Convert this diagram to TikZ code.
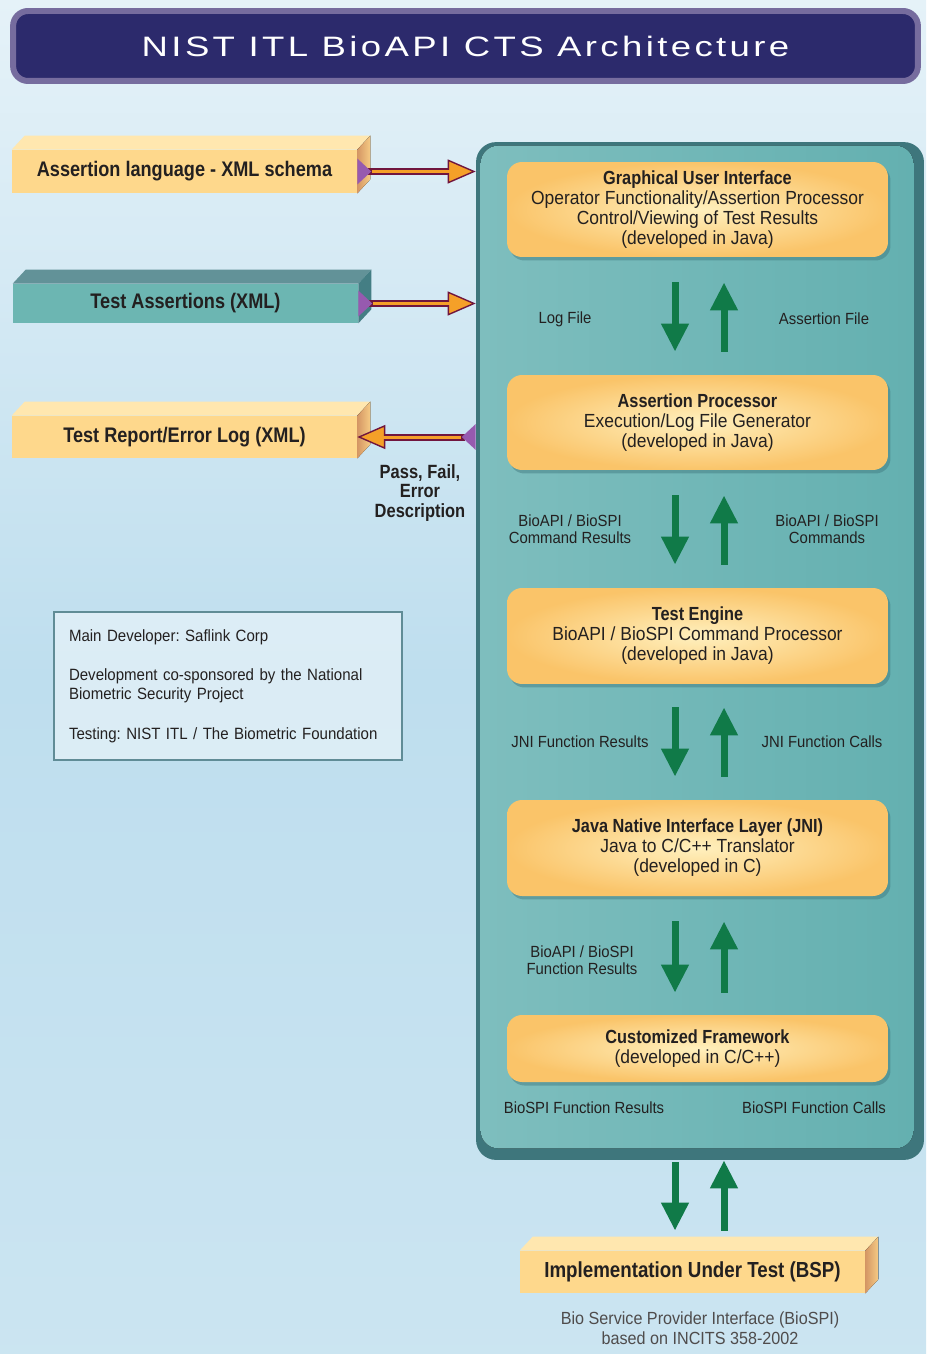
\documentclass[tikz,border=0pt]{standalone}
\usepackage{fontspec}
\setmainfont[FakeStretch=0.92, BoldFeatures={FakeStretch=0.86}]{Liberation Sans}
\newfontfamily\titlefont[FakeStretch=1.3, LetterSpace=12]{Liberation Sans}
\usepackage{tikz}
\usetikzlibrary{arrows.meta,positioning,shadows}
\definecolor{bgblue}{RGB}{190,222,238}
\definecolor{navy}{RGB}{44,42,108}
\definecolor{navyedge}{RGB}{118,108,158}
\definecolor{tealmain}{RGB}{100,176,176}
\definecolor{teallight}{RGB}{126,190,190}
\definecolor{tealdark}{RGB}{62,118,124}
\definecolor{boxedge}{RGB}{250,196,105}
\definecolor{boxmid}{RGB}{255,240,190}
\definecolor{barfront}{RGB}{254,216,140}
\definecolor{bartop}{RGB}{255,231,175}
\definecolor{barside}{RGB}{212,150,100}
\definecolor{tealbar}{RGB}{108,182,178}
\definecolor{tealbartop}{RGB}{98,146,152}
\definecolor{tealbarside}{RGB}{68,126,132}
\definecolor{arrowgreen}{RGB}{16,122,72}
\definecolor{maroon}{RGB}{112,22,62}
\definecolor{orangeline}{RGB}{245,160,40}
\definecolor{pyramid}{RGB}{150,90,175}
\definecolor{textdark}{RGB}{35,32,32}
\definecolor{notesedge}{RGB}{96,140,150}

\begin{document}
\begin{tikzpicture}[x=0.02cm, y=-0.02cm,
    box/.style={rectangle, rounded corners=0.3cm, minimum width=7.62cm, inner color=boxmid, outer color=boxedge, align=center, text=textdark, font=\fontsize{10.8}{11.4}\selectfont, drop shadow={shadow xshift=0.05cm, shadow yshift=-0.07cm, opacity=0.45, fill=tealdark}},
    bar/.style={rectangle, minimum width=6.9cm, inner sep=0pt, text=textdark, font=\bfseries\fontsize{12}{14}\selectfont},
    lbl/.style={align=center, text=textdark, font=\fontsize{9.2}{9.8}\selectfont},
    garrow/.style={draw=arrowgreen, line width=0.14cm, -{Triangle[length=0.56cm, width=0.52cm]}},
    oarrow/.style={draw=maroon, line width=0.14cm, {Triangle[reversed, length=0.28cm, width=0.5cm, color=pyramid, fill=pyramid]}-{Triangle[length=0.56cm, width=0.48cm, line width=0.8pt, fill=orangeline]}, postaction={draw=orangeline, line width=0.06cm, -, shorten <=0.3cm, shorten >=0.5cm}}
]
\useasboundingbox (0,0) rectangle (926,1354);
\shade[top color=white!60!bgblue, bottom color=bgblue!80!white, middle color=bgblue] (0,0) rectangle (926,1354);

% title bar
\node[rectangle, rounded corners=0.3cm, fill=navy, draw=navyedge, line width=0.12cm, minimum width=18.1cm, minimum height=1.4cm, text=white, font=\titlefont\fontsize{16}{18}\selectfont] (title) at (465.5,46) {NIST ITL BioAPI CTS Architecture};

% main panel
\node[rectangle, rounded corners=0.4cm, fill=tealdark, minimum width=8.96cm, minimum height=20.36cm] (panel) at (700,651) {};
\fill[rounded corners=0.35cm, left color=teallight, right color=tealmain] ([shift={(5,4)}]panel.north west) rectangle ([shift={(-11,-12)}]panel.south east);

% layers
\node[box, minimum height=1.9cm] (gui) at (697.5,209.5) {\textbf{Graphical User Interface}\\Operator Functionality/Assertion Processor\\Control/Viewing of Test Results\\(developed in Java)};
\node[box, minimum height=1.9cm] (aproc) at (697.5,422.5) {\textbf{Assertion Processor}\\Execution/Log File Generator\\(developed in Java)};
\node[box, minimum height=1.92cm] (tengine) at (697.5,636) {\textbf{Test Engine}\\BioAPI / BioSPI Command Processor\\(developed in Java)};
\node[box, minimum height=1.92cm] (jni) at (697.5,848) {\textbf{Java Native Interface Layer (JNI)}\\Java to C/C++ Translator\\(developed in C)};
\node[box, minimum height=1.34cm] (cframe) at (697.5,1048.5) {\textbf{Customized Framework}\\(developed in C/C++)};

% arrow columns
\coordinate (dn) at (675,0);
\coordinate (up) at (724,0);

\draw[garrow, shorten <=0.5cm, shorten >=0.46cm] (gui.south -| dn) -- (aproc.north -| dn);
\draw[garrow, shorten <=0.46cm, shorten >=0.5cm] (aproc.north -| up) -- (gui.south -| up);
\draw[garrow, shorten <=0.5cm, shorten >=0.46cm] (aproc.south -| dn) -- (tengine.north -| dn);
\draw[garrow, shorten <=0.46cm, shorten >=0.5cm] (tengine.north -| up) -- (aproc.south -| up);
\draw[garrow, shorten <=0.46cm, shorten >=0.46cm] (tengine.south -| dn) -- (jni.north -| dn);
\draw[garrow, shorten <=0.46cm, shorten >=0.46cm] (jni.north -| up) -- (tengine.south -| up);
\draw[garrow, shorten <=0.5cm, shorten >=0.44cm] (jni.south -| dn) -- (cframe.north -| dn);
\draw[garrow, shorten <=0.44cm, shorten >=0.5cm] (cframe.north -| up) -- (jni.south -| up);

\node[lbl] (lbllog) at (565,319) {Log File};
\node[lbl] (lblafile) at (824,319) {Assertion File};
\node[lbl] (lblcmdres) at (570,529) {BioAPI / BioSPI\\Command Results};
\node[lbl] (lblcmd) at (827,529) {BioAPI / BioSPI\\Commands};
\node[lbl] (lbljnires) at (580,742) {JNI Function Results};
\node[lbl] (lbljnicall) at (822,742) {JNI Function Calls};
\node[lbl] (lblfnres) at (582,960) {BioAPI / BioSPI\\Function Results};
\node[lbl] (lblspires) at (584,1108) {BioSPI Function Results};
\node[lbl] (lblspicall) at (814,1108) {BioSPI Function Calls};

% 3D bars
\node[bar, fill=barfront, minimum height=0.86cm] (xmlschema) at (184.5,171.5) {Assertion language - XML schema};
\fill[bartop] (xmlschema.north west) -- ++(13,-14) -- ([shift={(13,-14)}]xmlschema.north east) -- (xmlschema.north east) -- cycle;
\fill[left color=barside, right color=barfront!80!barside] (xmlschema.north east) -- ++(13,-14) -- ([shift={(13,-14)}]xmlschema.south east) -- (xmlschema.south east) -- cycle;

\node[bar, fill=tealbar, minimum height=0.78cm] (tassert) at (185.5,303.5) {Test Assertions (XML)};
\fill[tealbartop] (tassert.north west) -- ++(13,-14) -- ([shift={(13,-14)}]tassert.north east) -- (tassert.north east) -- cycle;
\fill[tealbarside] (tassert.north east) -- ++(13,-14) -- ([shift={(13,-14)}]tassert.south east) -- (tassert.south east) -- cycle;

\node[bar, fill=barfront, minimum height=0.84cm] (treport) at (184.5,437) {Test Report/Error Log (XML)};
\fill[bartop] (treport.north west) -- ++(13,-14) -- ([shift={(13,-14)}]treport.north east) -- (treport.north east) -- cycle;
\fill[left color=barside, right color=barfront!80!barside] (treport.north east) -- ++(13,-14) -- ([shift={(13,-14)}]treport.south east) -- (treport.south east) -- cycle;

\node[bar, fill=barfront, minimum height=0.84cm, font=\bfseries\fontsize{12.4}{14}\selectfont] (iut) at (692.5,1272) {Implementation Under Test (BSP)};
\fill[bartop] (iut.north west) -- ++(13,-14) -- ([shift={(13,-14)}]iut.north east) -- (iut.north east) -- cycle;
\fill[left color=barside, right color=barfront!80!barside] (iut.north east) -- ++(13,-14) -- ([shift={(13,-14)}]iut.south east) -- (iut.south east) -- cycle;

% xml files in and out
\draw[oarrow] (xmlschema.east) -- (panel.west |- xmlschema.east);
\draw[oarrow] (tassert.east) -- (panel.west |- tassert.east);
\draw[oarrow] (panel.west |- treport.east) -- (treport.east);
\node[font=\bfseries\fontsize{10.9}{11}\selectfont, text=textdark, align=center] (passfail) at (420,493) {Pass, Fail,\\Error\\Description};

% to the BSP
\draw[garrow, shorten <=0.04cm, shorten >=0.4cm] (panel.south -| dn) -- (iut.north -| dn);
\draw[garrow, shorten <=0.4cm] (iut.north -| up) -- (panel.south -| up);
\node[align=center, text=textdark!80, font=\fontsize{10}{11.3}\selectfont] (caption) at (700,1328) {Bio Service Provider Interface (BioSPI)\\based on INCITS 358-2002};

% credits
\node[rectangle, draw=notesedge, line width=0.05cm, fill=white, fill opacity=0.45, text opacity=1, minimum width=6.96cm, minimum height=2.96cm, inner sep=0.3cm, text width=6.36cm, align=left, text=textdark, font=\frenchspacing\fontsize{9.3}{11}\selectfont] (notes) at (228,686) {Main Developer: Saflink Corp\\[0.4cm]Development co-sponsored by the National\\Biometric Security Project\\[0.4cm]Testing: NIST ITL / The Biometric Foundation};

\end{tikzpicture}
\end{document}
